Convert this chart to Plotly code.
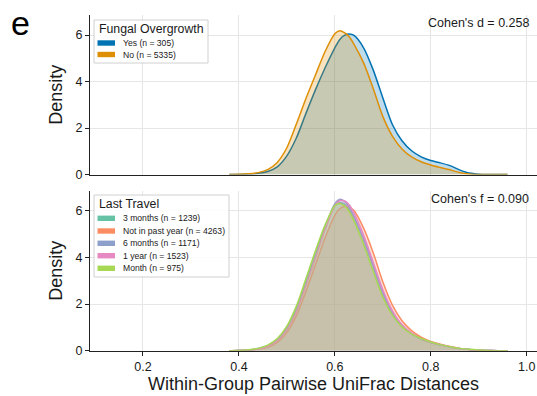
import plotly.graph_objects as go

# ---- data -------------------------------------------------------------
# Kernel density curves sampled on a common grid of UniFrac distances
x_grid = [0.38, 0.40, 0.42, 0.44, 0.46, 0.48, 0.50, 0.52, 0.54, 0.56, 0.58,
          0.60, 0.61, 0.62, 0.63, 0.64, 0.66, 0.68, 0.70, 0.72, 0.74, 0.76,
          0.78, 0.80, 0.82, 0.84, 0.86, 0.88, 0.90, 0.92, 0.94, 0.96]

# Fungal overgrowth
fungal_labels = ["Yes (n = 305)", "No (n = 5335)"]
fungal_yes = [0.0, 0.0, 0.02, 0.05, 0.13, 0.33, 0.80, 1.58, 2.64, 3.66, 4.60,
              5.45, 5.80, 5.98, 6.04, 5.98, 5.45, 4.50, 3.30, 2.15, 1.45, 1.02,
              0.76, 0.60, 0.50, 0.38, 0.20, 0.06, 0.01, 0.0, 0.0, 0.0]
fungal_no = [0.0, 0.01, 0.03, 0.08, 0.21, 0.52, 1.15, 2.18, 3.28, 4.30, 5.30,
             6.05, 6.18, 6.10, 5.92, 5.60, 4.80, 3.70, 2.50, 1.65, 1.10, 0.76,
             0.55, 0.41, 0.30, 0.20, 0.09, 0.02, 0.0, 0.0, 0.0, 0.0]

# Last travel
travel_labels = ["3 months (n = 1239)", "Not in past year (n = 4263)",
                 "6 months (n = 1171)", "1 year (n = 1523)", "Month (n = 975)"]
travel_3m = [0.0, 0.01, 0.03, 0.09, 0.21, 0.47, 0.98, 1.80, 2.95, 4.15, 5.30,
             6.20, 6.35, 6.28, 6.05, 5.70, 4.75, 3.60, 2.45, 1.60, 1.05, 0.72,
             0.50, 0.35, 0.25, 0.16, 0.09, 0.05, 0.02, 0.01, 0.0, 0.0]
travel_notpast = [0.0, 0.01, 0.02, 0.06, 0.15, 0.36, 0.78, 1.50, 2.55, 3.70,
                  4.85, 5.80, 6.08, 6.18, 6.15, 6.00, 5.25, 4.20, 2.95, 1.95,
                  1.28, 0.86, 0.58, 0.40, 0.28, 0.18, 0.10, 0.05, 0.02, 0.01,
                  0.0, 0.0]
travel_6m = [0.0, 0.01, 0.03, 0.08, 0.20, 0.45, 0.95, 1.75, 2.90, 4.10, 5.30,
             6.30, 6.48, 6.40, 6.15, 5.75, 4.80, 3.65, 2.50, 1.62, 1.07, 0.73,
             0.50, 0.35, 0.25, 0.16, 0.09, 0.05, 0.02, 0.01, 0.0, 0.0]
travel_1y = [0.0, 0.01, 0.03, 0.07, 0.18, 0.42, 0.90, 1.68, 2.80, 4.00, 5.20,
             6.22, 6.43, 6.42, 6.25, 5.90, 4.95, 3.80, 2.62, 1.72, 1.12, 0.76,
             0.52, 0.37, 0.26, 0.17, 0.10, 0.05, 0.02, 0.01, 0.0, 0.0]
travel_month = [0.0, 0.01, 0.04, 0.10, 0.24, 0.52, 1.05, 1.92, 3.10, 4.30,
                5.40, 6.22, 6.30, 6.20, 5.95, 5.55, 4.55, 3.40, 2.30, 1.52,
                1.02, 0.72, 0.52, 0.37, 0.26, 0.17, 0.10, 0.06, 0.03, 0.01,
                0.0, 0.0]

cohen_d = 0.258
cohen_f = 0.090

x_ticks = [0.2, 0.4, 0.6, 0.8, 1.0]
y_ticks = [0, 2, 4, 6]

# ---- styling ----------------------------------------------------------
W, H = 537, 396
FONT = "Liberation Sans, Arial, Helvetica, sans-serif"
TXT = "#1a1a1a"

fungal_colors = ["#0173b2", "#de8f05"]
travel_colors = ["#66c2a5", "#fc8d62", "#8da0cb", "#e78ac3", "#a6d854"]
FILL_ALPHA = 0.25


def px_x(p):
    return p / W


def px_y(p):
    return 1 - p / H


def rgba(hex_color, a):
    h = hex_color.lstrip("#")
    r, g, b = int(h[0:2], 16), int(h[2:4], 16), int(h[4:6], 16)
    return f"rgba({r},{g},{b},{a})"


fig = go.Figure()

fungal_series = [fungal_yes, fungal_no]
for vals, name, col in zip(fungal_series, fungal_labels, fungal_colors):
    fig.add_trace(go.Scatter(
        x=x_grid, y=vals, name=name, mode="lines",
        line=dict(color=col, width=1.5, shape="spline", smoothing=0.8),
        fill="tozeroy", fillcolor=rgba(col, FILL_ALPHA),
        xaxis="x", yaxis="y", showlegend=False, hoverinfo="skip"))

travel_series = [travel_3m, travel_notpast, travel_6m, travel_1y, travel_month]
for vals, name, col in zip(travel_series, travel_labels, travel_colors):
    fig.add_trace(go.Scatter(
        x=x_grid, y=vals, name=name, mode="lines",
        line=dict(color=col, width=1.5, shape="spline", smoothing=0.8),
        fill="tozeroy", fillcolor=rgba(col, FILL_ALPHA),
        xaxis="x2", yaxis="y2", showlegend=False, hoverinfo="skip"))

# panel geometry (pixels)
left_px, right_px = 90, 537
top1, bot1 = 15, 174.5
top2, bot2 = 191, 350.7
x_range = [0.0896, 1.0215]

axis_common = dict(
    showline=True, linecolor="#222", linewidth=1.3,
    gridcolor="#e6e6e6", gridwidth=1, zeroline=False,
    tickfont=dict(family=FONT, size=12.5, color=TXT),
    ticks="outside", ticklen=4, tickcolor="#222", tickwidth=1.2,
)

fig.update_layout(
    width=W, height=H,
    margin=dict(l=0, r=0, t=0, b=0, autoexpand=False),
    paper_bgcolor="white", plot_bgcolor="white",
    font=dict(family=FONT, color=TXT),
    xaxis=dict(axis_common, domain=[px_x(left_px), px_x(right_px)],
               range=x_range, tickvals=x_ticks, showticklabels=False,
               ticks="", anchor="y"),
    yaxis=dict(axis_common, domain=[px_y(bot1), px_y(top1)],
               range=[0, 6.86], tickvals=y_ticks, anchor="x",
               title=dict(text="Density", font=dict(size=18, family=FONT),
                          standoff=8)),
    xaxis2=dict(axis_common, domain=[px_x(left_px), px_x(right_px)],
                range=x_range, tickvals=x_ticks, tickformat=".1f",
                anchor="y2",
                title=dict(text="Within-Group Pairwise UniFrac Distances",
                           font=dict(size=18, family=FONT), standoff=4)),
    yaxis2=dict(axis_common, domain=[px_y(bot2), px_y(top2)],
                range=[0, 6.84], tickvals=y_ticks, anchor="x2",
                title=dict(text="Density", font=dict(size=18, family=FONT),
                           standoff=8)),
)

shapes = []
annotations = []

# panel letter
annotations.append(dict(text="e", x=px_x(9), y=px_y(23), xref="paper",
                        yref="paper", xanchor="left", yanchor="middle",
                        showarrow=False,
                        font=dict(size=34, family=FONT, color="#000")))

# effect sizes
annotations.append(dict(text=f"Cohen's d = {cohen_d:.3f}", x=px_x(531),
                        y=px_y(23), xref="paper", yref="paper",
                        xanchor="right", yanchor="middle", showarrow=False,
                        font=dict(size=12.5, family=FONT, color=TXT)))
annotations.append(dict(text=f"Cohen's f = {cohen_f:.3f}", x=px_x(531),
                        y=px_y(199), xref="paper", yref="paper",
                        xanchor="right", yanchor="middle", showarrow=False,
                        font=dict(size=12.5, family=FONT, color=TXT)))


def legend_box(x0, y0, x1, y1, title, title_y, labels, colors, rows_y):
    shapes.append(dict(type="rect", xref="paper", yref="paper",
                       x0=px_x(x0), x1=px_x(x1), y0=px_y(y1), y1=px_y(y0),
                       line=dict(color="#d0d0d0", width=1),
                       fillcolor="rgba(255,255,255,0.85)", layer="above"))
    annotations.append(dict(text=title, x=px_x(x0 + 3), y=px_y(title_y),
                            xref="paper", yref="paper", xanchor="left",
                            yanchor="middle", showarrow=False,
                            font=dict(size=12.3, family=FONT, color=TXT)))
    for lab, col, ry in zip(labels, colors, rows_y):
        shapes.append(dict(type="rect", xref="paper", yref="paper",
                           x0=px_x(x0 + 3.5), x1=px_x(x0 + 21),
                           y0=px_y(ry + 2.7), y1=px_y(ry - 2.7),
                           line=dict(width=0), fillcolor=col, layer="above"))
        annotations.append(dict(text=lab, x=px_x(x0 + 27), y=px_y(ry),
                                xref="paper", yref="paper", xanchor="left",
                                yanchor="middle", showarrow=False,
                                font=dict(size=8.6, family=FONT, color=TXT)))


legend_box(94, 20, 208, 63, "Fungal Overgrowth", 28.5,
           fungal_labels, fungal_colors, [43, 54.5])
legend_box(94, 195, 229, 277, "Last Travel", 204,
           travel_labels, travel_colors, [218.3, 231, 243.3, 255.7, 268.3])

fig.update_layout(shapes=shapes, annotations=annotations)

fig.write_html("out.html")
